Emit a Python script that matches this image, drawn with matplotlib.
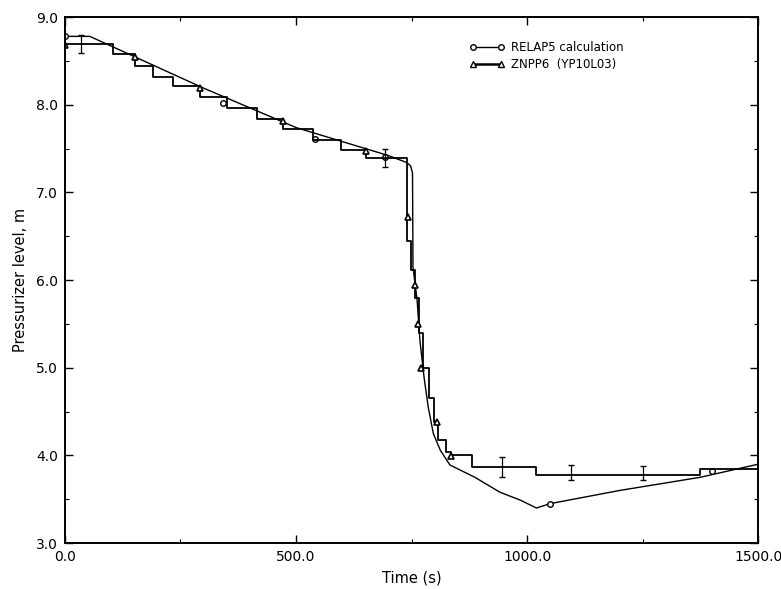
import matplotlib
matplotlib.use("Agg")
import matplotlib.pyplot as plt
from matplotlib.ticker import MultipleLocator, FormatStrFormatter

# RELAP5 calcul (courbe lisse)
relap_t = [0, 54, 300, 500, 700, 740, 748, 752, 753, 762, 768, 777, 786, 797,
           812, 833, 860, 887, 941, 985, 1020, 1050, 1200, 1374, 1500]
relap_y = [8.78, 8.78, 8.19, 7.74, 7.42, 7.34, 7.30, 7.22, 6.15, 5.77, 5.31,
           4.89, 4.55, 4.25, 4.06, 3.89, 3.82, 3.75, 3.58, 3.49, 3.40, 3.45,
           3.60, 3.75, 3.90]
relap_mark_t = [0, 342, 541, 693, 1050, 1400]
relap_mark_y = [8.78, 8.02, 7.61, 7.40, 3.45, 3.82]

# ZNPP6 mesures (escalier)
znpp_t = [0, 104, 152, 190, 234, 292, 350, 415, 472, 537, 597, 652, 740, 749,
          758, 766, 775, 788, 799, 807, 825, 835, 881, 1019, 1374, 1500]
znpp_y = [8.69, 8.58, 8.44, 8.32, 8.21, 8.09, 7.96, 7.84, 7.72, 7.60, 7.48,
          7.39, 6.45, 6.11, 5.80, 5.40, 5.00, 4.66, 4.38, 4.17, 4.04, 4.00,
          3.87, 3.78, 3.85, 3.87]
znpp_mark_t = [0, 152, 292, 472, 652, 742, 757, 764, 771, 806, 835]
znpp_mark_y = [8.68, 8.54, 8.19, 7.82, 7.47, 6.72, 5.94, 5.50, 5.00, 4.38, 3.99]

# barres d'erreur
err_t = [35, 693, 946, 1095, 1250]
err_y = [8.69, 7.39, 3.87, 3.80, 3.80]
err_h = [0.10, 0.10, 0.115, 0.085, 0.075]

fig = plt.figure(figsize=(7.81, 5.89), dpi=100)
ax = fig.add_axes([0.083, 0.078, 0.888, 0.893])

ax.plot(relap_t, relap_y, color='black', lw=1.0)
ax.plot(relap_mark_t, relap_mark_y, ls='none', marker='o', ms=4,
        mfc='white', mec='black', mew=1.0)
ax.plot(znpp_t, znpp_y, color='black', lw=1.3, drawstyle='steps-post')
ax.plot(znpp_mark_t, znpp_mark_y, ls='none', marker='^', ms=4,
        mfc='white', mec='black', mew=1.2)
ax.errorbar(err_t, err_y, yerr=err_h, fmt='none', ecolor='black',
            elinewidth=0.9, capsize=2)

# legende faite a la main avec des handles
h1, = ax.plot([], [], color='black', lw=1.0, marker='o', ms=4,
              mfc='white', mec='black')
h2, = ax.plot([], [], color='black', lw=1.8, marker='^', ms=4,
              mfc='white', mec='black')
ax.legend([h1, h2], ['RELAP5 calculation', 'ZNPP6  (YP10L03)'],
          loc='upper left', bbox_to_anchor=(0.575, 0.965), frameon=False,
          numpoints=2, handlelength=3.0, handletextpad=0.5,
          labelspacing=0.3, borderpad=0, fontsize=8.5)

ax.set_xlim(0, 1500)
ax.set_ylim(3.0, 9.0)
ax.xaxis.set_major_locator(MultipleLocator(500))
ax.xaxis.set_minor_locator(MultipleLocator(250))
ax.yaxis.set_major_locator(MultipleLocator(1.0))
ax.yaxis.set_minor_locator(MultipleLocator(0.5))
ax.xaxis.set_major_formatter(FormatStrFormatter('%.1f'))
ax.yaxis.set_major_formatter(FormatStrFormatter('%.1f'))
ax.tick_params(which='both', direction='in', top=True, right=True,
               labelsize=10, pad=5)
ax.tick_params(which='major', length=6, width=1.0)
ax.tick_params(which='minor', length=3, width=0.8)
for s in ax.spines.values():
    s.set_linewidth(1.4)

ax.set_xlabel('Time (s)', fontsize=10.5, labelpad=5)
ax.set_ylabel('Pressurizer level, m', fontsize=10.5, labelpad=6)

fig.savefig('out.png', dpi=100)
